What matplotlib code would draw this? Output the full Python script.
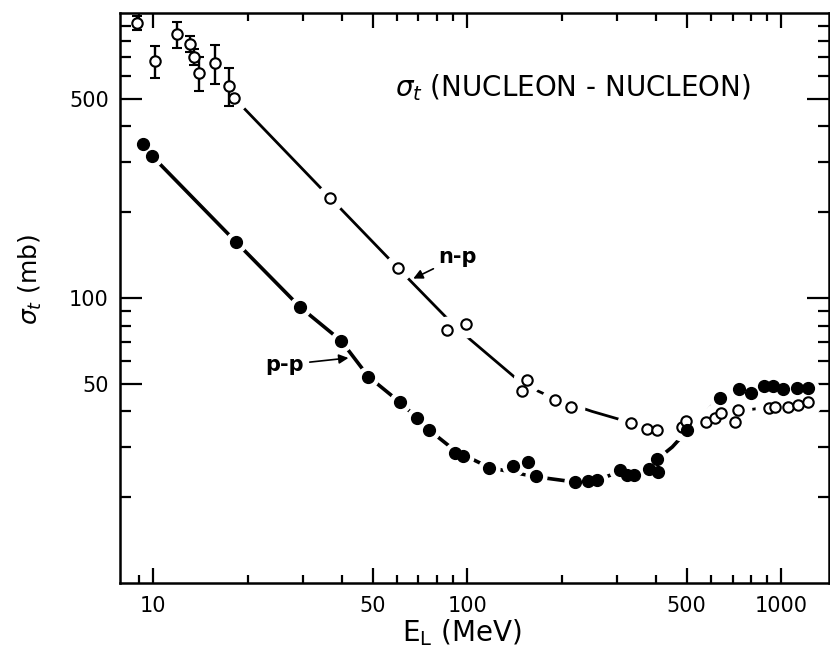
import numpy as np
import matplotlib
matplotlib.use("Agg")
import matplotlib.pyplot as plt
from matplotlib.ticker import NullFormatter

plt.rcParams.update({
    "font.family": "DejaVu Sans",
    "font.size": 15,
    "axes.linewidth": 1.8,
    "mathtext.fontset": "dejavusans",
})

# n-p, low energy points with error bars
np_low_e = [8.9, 10.15, 11.9, 13.1, 13.5, 14.0, 15.8, 17.5]
np_low_s = [926, 680, 843, 778, 703, 616, 667, 556]
np_low_err = [52, 88, 90, 50, 45, 85, 105, 83]

# n-p, other points
np_e = [18.1, 36.6, 60.4, 86.1, 99.3, 150, 155, 191, 214, 333, 375, 401,
        483, 498, 577, 617, 643, 713, 731, 918, 957, 1055, 1135, 1221]
np_s = [504, 225, 127, 77.3, 81.2, 47.0, 51.7, 43.8, 41.6, 36.4, 34.7, 34.5,
        35.4, 37.1, 36.8, 37.9, 39.6, 36.8, 40.5, 41.1, 41.6, 41.6, 42.2, 43.0]

# p-p points
pp_e = [9.31, 9.9, 18.4, 29.4, 39.7, 48.5, 61.2, 69.2, 75.7, 91.6, 97.3,
        117.8, 140.4, 156, 165.5, 221, 243, 259, 307, 323, 339, 380, 401,
        406, 503, 640, 736, 801, 883, 941, 1017, 1127, 1213]
pp_s = [347, 316, 157, 92.9, 70.8, 53.0, 43.0, 38.0, 34.3, 28.7, 27.8,
        25.4, 25.8, 26.5, 23.8, 22.6, 22.8, 22.9, 25.0, 24.0, 23.9, 25.2, 27.3,
        24.5, 34.3, 44.6, 47.9, 46.4, 49.2, 49.2, 47.9, 48.3, 48.3]

# hand-drawn curves through the data
np_curve_e = [18.1, 36.6, 60.4, 92, 150, 190, 250, 330, 400, 500, 600, 700,
              850, 1000, 1221]
np_curve_s = [504, 225, 127, 79, 50, 44.3, 40.0, 36.6, 35.3, 36.2, 38.0, 39.8,
              41.0, 41.8, 43.0]
pp_curve_e = [9.9, 18.4, 29.4, 39.7, 48.5, 61.2, 69.2, 76, 92, 118, 165, 221,
              260, 307, 360, 400, 450, 503, 640, 736, 900, 1213]
pp_curve_s = [316, 157, 92.9, 70.8, 53.0, 43.0, 38.0, 34.3, 29.0, 25.4, 23.6,
              22.6, 23.0, 24.6, 25.5, 27.0, 30.0, 34.3, 44.6, 47.5, 48.8, 48.5]

x_major = [10, 50, 100, 500, 1000]
x_labels = ["10", "50", "100", "500", "1000"]
x_minor = [9, 20, 30, 40, 60, 70, 80, 90, 200, 300, 400, 600, 700, 800, 900]
y_major = [50, 100, 500]
y_labels = ["50", "100", "500"]
y_minor = [20, 30, 40, 60, 70, 80, 90, 200, 300, 400, 600, 700, 800, 900]


def make_figure():
    fig = plt.figure(figsize=(8.3, 6.55), dpi=100)
    ax = fig.add_axes([120 / 830, 1 - 583 / 655, 709 / 830, 570 / 655])

    ax.set_xscale("log")
    ax.set_yscale("log")

    # curves
    ax.plot(np_curve_e, np_curve_s, color="black", lw=2.0, zorder=1)
    ax.plot(pp_curve_e, pp_curve_s, color="black", lw=2.6, zorder=1)

    # white halos so the curves break around each point
    ax.plot(np_e, np_s, "o", ms=19, color="white", zorder=2)
    ax.plot(pp_e, pp_s, "o", ms=15, color="white", zorder=2)

    # points
    ax.errorbar(np_low_e, np_low_s, yerr=np_low_err, fmt="o", ms=7.5,
                mfc="white", mec="black", mew=1.5, ecolor="black",
                elinewidth=1.7, capsize=3.5, capthick=1.7, zorder=4)
    ax.plot(np_e, np_s, "o", ms=7.5, mfc="white", mec="black", mew=1.5,
            zorder=4)
    ax.plot(pp_e, pp_s, "o", ms=8.5, color="black", zorder=4)

    ax.set_xlim(7.85, 1420)
    ax.set_ylim(10, 1000)

    ax.set_xticks(x_major, labels=x_labels)
    ax.set_xticks(x_minor, minor=True)
    ax.set_yticks(y_major, labels=y_labels)
    ax.set_yticks(y_minor, minor=True)
    ax.xaxis.set_minor_formatter(NullFormatter())
    ax.yaxis.set_minor_formatter(NullFormatter())

    ax.tick_params(which="both", direction="in", top=True, right=True,
                   width=1.6, labelsize=15)
    ax.tick_params(axis="x", which="major", length=11, pad=9)
    ax.tick_params(axis="x", which="minor", length=6)
    ax.tick_params(axis="y", which="major", length=16, pad=8)
    ax.tick_params(axis="y", which="minor", length=8)

    ax.text(0.388, 0.870, r"$\sigma_t$ (NUCLEON - NUCLEON)",
            transform=ax.transAxes, fontsize=20, ha="left", va="center")

    ax.annotate("n-p", xy=(67.4, 117), xytext=(93.5, 139.5),
                fontsize=15, fontweight="bold", ha="center", va="center",
                arrowprops=dict(arrowstyle="-|>", color="black", lw=1.2,
                                mutation_scale=14, shrinkA=2, shrinkB=0))
    ax.annotate("p-p", xy=(41.9, 61.6), xytext=(26.3, 58.3),
                fontsize=15, fontweight="bold", ha="center", va="center",
                arrowprops=dict(arrowstyle="-|>", color="black", lw=1.2,
                                mutation_scale=14, shrinkA=2, shrinkB=0))

    fig.text(462 / 830, 1 - 633 / 655, r"E$_{\rm L}$ (MeV)", fontsize=20,
             ha="center", va="center")
    fig.text(30 / 830, 1 - 280 / 655, r"$\sigma_t$ (mb)", fontsize=18,
             rotation=90, ha="center", va="center")

    fig.savefig("out.png", dpi=100)


if __name__ == "__main__":
    make_figure()
